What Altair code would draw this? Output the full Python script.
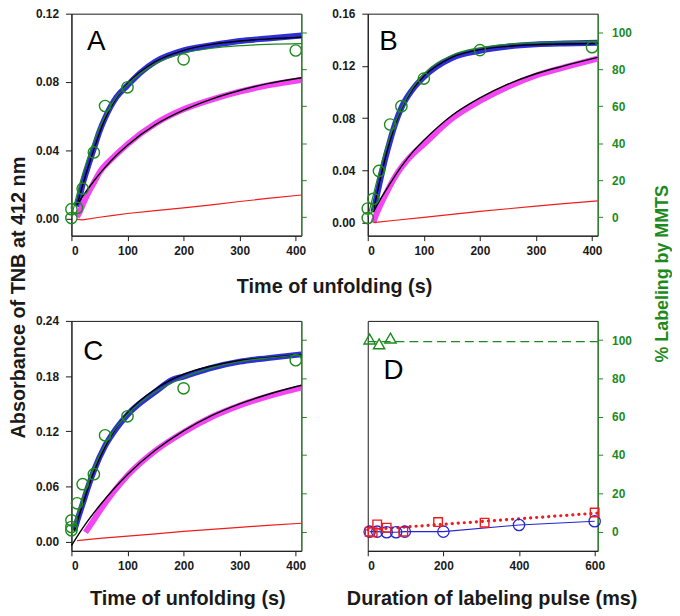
import altair as alt
import pandas as pd

FONT = "Liberation Sans"
GREEN = "#1c8a1c"
BLUE = "#2424d4"
MAGENTA = "#f23cf2"
RED = "#ee1c1c"
DARK = "#1a1a1a"

W = 232
H1, H2 = 224, 232

# ---------------- Panel A ----------------
A_blue_t = [10, 15, 20, 30, 40, 50, 60, 80, 100, 125, 150, 200, 250, 300, 350, 410]
A_blue_v = [0.007, 0.013, 0.020, 0.031, 0.041, 0.051, 0.059, 0.071, 0.078, 0.086, 0.092, 0.0985, 0.1015, 0.1040, 0.1055, 0.1072]
A_bfit_t = [10, 20, 40, 60, 80, 100, 150, 200, 250, 300, 350, 410]
A_bfit_v = [0.008, 0.0195, 0.0405, 0.0585, 0.0705, 0.0790, 0.0920, 0.0985, 0.1020, 0.1040, 0.1052, 0.1062]
A_mag_t = [10, 15, 20, 30, 40, 50, 75, 100, 150, 200, 250, 300, 350, 410]
A_mag_v = [0.001, 0.004, 0.008, 0.015, 0.021, 0.027, 0.036, 0.0436, 0.0557, 0.0640, 0.0697, 0.0743, 0.0780, 0.0812]
A_mfit_t = [10, 20, 40, 60, 80, 100, 150, 200, 250, 300, 350, 410]
A_mfit_v = [0.008, 0.013, 0.022, 0.030, 0.037, 0.043, 0.055, 0.0635, 0.0700, 0.0750, 0.0790, 0.0825]
A_red_t = [10, 20, 50, 75, 100, 150, 200, 250, 300, 350, 410]
A_red_v = [-0.0005, -0.0008, 0.0008, 0.0019, 0.0030, 0.0047, 0.0063, 0.0080, 0.0100, 0.0118, 0.0138]
A_grn_t = [0, 0, 10, 20, 40, 60, 100, 200, 400]
A_grn_p = [-0.5, 4.3, 5.0, 15.4, 35.0, 60.1, 70.2, 85.3, 90.1]
A_gfit_t = [0, 10, 20, 40, 60, 80, 100, 150, 200, 250, 300, 350, 410]
A_gfit_p = [0, 12.5, 23.4, 41.0, 54.8, 64.9, 71.6, 83.0, 88.6, 91.3, 92.7, 93.4, 93.8]

# ---------------- Panel B ----------------
B_blue_t = [10, 15, 20, 30, 40, 50, 60, 80, 100, 150, 200, 250, 300, 350, 410]
B_blue_v = [0.008, 0.018, 0.028, 0.047, 0.063, 0.077, 0.088, 0.102, 0.1115, 0.126, 0.1316, 0.1348, 0.1365, 0.1372, 0.1377]
B_bfit_t = [10, 20, 40, 60, 80, 100, 150, 200, 250, 300, 350, 410]
B_bfit_v = [0.009, 0.029, 0.063, 0.087, 0.102, 0.112, 0.1265, 0.1325, 0.1350, 0.1362, 0.1368, 0.1372]
B_mag_t = [10, 15, 20, 30, 50, 75, 100, 150, 200, 250, 300, 350, 410]
B_mag_v = [0.000, 0.006, 0.011, 0.020, 0.036, 0.050, 0.060, 0.0796, 0.0931, 0.1040, 0.1127, 0.1188, 0.1257]
B_mfit_t = [10, 20, 40, 60, 80, 100, 150, 200, 250, 300, 350, 410]
B_mfit_v = [0.008, 0.016, 0.030, 0.043, 0.054, 0.063, 0.082, 0.0955, 0.106, 0.114, 0.120, 0.1265]
B_red_t = [10, 50, 100, 150, 200, 250, 300, 350, 410]
B_red_v = [0.0, 0.0018, 0.0040, 0.0063, 0.0086, 0.0106, 0.0126, 0.0146, 0.0167]
B_grn_t = [0, 0, 10, 20, 40, 60, 100, 200, 400]
B_grn_p = [-0.5, 4.7, 9.9, 25.0, 50.1, 60.0, 74.9, 90.3, 91.9]
B_gfit_t = [0, 10, 20, 40, 60, 80, 100, 150, 200, 250, 300, 350, 410]
B_gfit_p = [0, 12, 24, 44, 59, 70, 77.5, 87.5, 91.6, 93.5, 94.4, 94.8, 95.0]

# ---------------- Panel C ----------------
C_blue_t = [5, 10, 20, 30, 40, 60, 80, 100, 150, 180, 200, 250, 300, 350, 410]
C_blue_v = [0.012, 0.022, 0.041, 0.060, 0.077, 0.104, 0.123, 0.138, 0.163, 0.176, 0.1795, 0.189, 0.1957, 0.1995, 0.2036]
C_bfit_t = [5, 10, 20, 40, 60, 80, 100, 150, 200, 250, 300, 350, 410]
C_bfit_v = [0.011, 0.021, 0.040, 0.076, 0.103, 0.124, 0.140, 0.166, 0.182, 0.191, 0.197, 0.200, 0.2035]
C_mag_t = [25, 35, 50, 75, 100, 150, 200, 250, 300, 350, 410]
C_mag_v = [0.010, 0.019, 0.033, 0.054, 0.072, 0.099, 0.119, 0.1355, 0.148, 0.158, 0.1675]
C_mfit_t = [0, 25, 50, 75, 100, 150, 200, 250, 300, 350, 410]
C_mfit_v = [-0.0043, 0.019, 0.039, 0.057, 0.073, 0.0996, 0.1205, 0.137, 0.1498, 0.160, 0.170]
C_red_t = [10, 50, 100, 150, 200, 250, 300, 350, 410]
C_red_v = [0.0011, 0.0035, 0.0060, 0.0085, 0.0112, 0.0133, 0.0155, 0.0177, 0.0200]
C_grn_t = [0, 0, 0, 10, 20, 40, 60, 100, 200, 400]
C_grn_p = [0.7, 2.4, 5.9, 14.8, 24.8, 30.0, 50.3, 60.2, 74.8, 89.5]
C_gfit_t = [0, 10, 20, 40, 60, 80, 100, 150, 200, 250, 300, 350, 410]
C_gfit_p = [0, 8.5, 17.5, 33.5, 45.5, 54.5, 61.2, 73.0, 80.5, 85.5, 88.7, 90.6, 92.2]

# ---------------- Panel D ----------------
D_tri_x = [5, 30, 60]
D_tri_p = [100.5, 98.0, 101.0]
D_dash_x = [0, 608]
D_dash_p = [99.2, 99.2]
D_sq_x = [5, 13, 25, 50, 94, 186, 309, 600]
D_sq_p = [0.0, -0.3, 3.8, 2.1, 0.0, 5.0, 4.7, 10.0]
D_dot_x = [0, 608]
D_dot_p = [1.0, 9.7]
D_circ_x = [5, 25, 50, 75, 98, 200, 400, 600]
D_circ_p = [0.0, 0.0, -0.3, -0.3, 0.0, 0.0, 3.5, 5.4]

T_TICKS = [0, 100, 200, 300, 400]
P_TICKS = [0, 20, 40, 60, 80, 100]


def dfv(t, v):
    return pd.DataFrame({"t": t, "v": v})


def dfp(t, p):
    return pd.DataFrame({"t": t, "p": p})


def letter_layer(letter, lx, ly):
    return alt.Chart(pd.DataFrame({"label": [letter]})).mark_text(
        font=FONT, fontSize=28, align="center", baseline="middle", color="black"
    ).encode(x=alt.value(lx), y=alt.value(ly), text="label:N")


def abs_panel(letter, lx, ly, ymax, yvals, data, right_labels, x_axis, height, left_title=None, right_title=None):
    xenc = alt.X("t:Q", scale=alt.Scale(domain=[0, 410], nice=False, zero=False), axis=x_axis)
    la = dict(values=yvals, format=".2f", orient="left", tickSize=6, labelPadding=7)
    if left_title:
        la.update(left_title)
    else:
        la["title"] = None
    yv = alt.Y("v:Q", scale=alt.Scale(domain=[-0.01, ymax], nice=False, zero=False), axis=alt.Axis(**la))
    (bt, bv, bft, bfv, mt, mv, mft, mfv, rt, rv, gt, gp, gft, gfp) = data
    layers = [
        alt.Chart(dfv(bt, bv)).mark_line(color=BLUE, strokeWidth=6, interpolate="monotone", opacity=0.95).encode(x=xenc, y=yv),
        alt.Chart(dfv(mt, mv)).mark_line(color=MAGENTA, strokeWidth=6, interpolate="monotone", opacity=0.95).encode(x=xenc, y=yv),
        alt.Chart(dfv(bft, bfv)).mark_line(color="black", strokeWidth=1.4, interpolate="monotone").encode(x=xenc, y=yv),
        alt.Chart(dfv(mft, mfv)).mark_line(color="black", strokeWidth=1.4, interpolate="monotone").encode(x=xenc, y=yv),
        alt.Chart(dfv(rt, rv)).mark_line(color=RED, strokeWidth=1.2).encode(x=xenc, y=yv),
        letter_layer(letter, lx, ly),
    ]
    abs_group = alt.layer(*layers)
    ra = dict(orient="right", values=P_TICKS, labels=right_labels, domainColor=GREEN, tickColor=GREEN,
              labelColor=GREEN, tickSize=5, labelPadding=9)
    if right_title:
        ra.update(right_title)
    else:
        ra["title"] = None
    yp = alt.Y("p:Q", scale=alt.Scale(domain=[-10, 110], nice=False, zero=False), axis=alt.Axis(**ra))
    pct_group = alt.layer(
        alt.Chart(dfp(gft, gfp)).mark_line(color=GREEN, strokeWidth=1.2, interpolate="monotone").encode(x=xenc, y=yp),
        alt.Chart(dfp(gt, gp)).mark_point(shape="circle", filled=False, color=GREEN, size=130, strokeWidth=1.4, opacity=1).encode(x=xenc, y=yp),
    )
    return alt.layer(abs_group, pct_group).resolve_scale(y="independent").properties(width=W, height=height)


xa_A = alt.Axis(values=T_TICKS, tickSize=5, labelPadding=5, title="Time of unfolding (s)",
                titleX=265, titleY=51, titleAlign="center", titleBaseline="middle")
xa_B = alt.Axis(values=T_TICKS, tickSize=5, labelPadding=5, title=None)
xa_C = alt.Axis(values=T_TICKS, tickSize=5, labelPadding=5, title="Time of unfolding (s)",
                titleX=117, titleY=48, titleAlign="center", titleBaseline="middle")

left_title = dict(title="Absorbance of TNB at 412 nm", titleX=-53, titleY=286, titleAngle=270,
                  titleAlign="center", titleBaseline="middle")
right_title = dict(title="% Labeling by MMTS", titleX=65, titleY=262, titleAngle=270, titleColor=GREEN,
                   titleFontSize=18, titleAlign="center", titleBaseline="middle")

panelA = abs_panel("A", 25, 29, 0.12, [0, 0.04, 0.08, 0.12],
                   (A_blue_t, A_blue_v, A_bfit_t, A_bfit_v, A_mag_t, A_mag_v, A_mfit_t, A_mfit_v,
                    A_red_t, A_red_v, A_grn_t, A_grn_p, A_gfit_t, A_gfit_p),
                   False, xa_A, H1, left_title=left_title)
panelB = abs_panel("B", 21, 29, 0.16, [0, 0.04, 0.08, 0.12, 0.16],
                   (B_blue_t, B_blue_v, B_bfit_t, B_bfit_v, B_mag_t, B_mag_v, B_mfit_t, B_mfit_v,
                    B_red_t, B_red_v, B_grn_t, B_grn_p, B_gfit_t, B_gfit_p),
                   True, xa_B, H1, right_title=right_title)
panelC = abs_panel("C", 22, 31, 0.24, [0, 0.06, 0.12, 0.18, 0.24],
                   (C_blue_t, C_blue_v, C_bfit_t, C_bfit_v, C_mag_t, C_mag_v, C_mfit_t, C_mfit_v,
                    C_red_t, C_red_v, C_grn_t, C_grn_p, C_gfit_t, C_gfit_p),
                   False, xa_C, H2)

# Panel D
xD = alt.X("t:Q", scale=alt.Scale(domain=[0, 608], nice=False, zero=False),
           axis=alt.Axis(values=[0, 200, 400, 600], tickSize=5, labelPadding=5,
                         title="Duration of labeling pulse (ms)", titleX=125, titleY=48,
                         titleAlign="center", titleBaseline="middle"))
yD = alt.Y("p:Q", scale=alt.Scale(domain=[-10, 110], nice=False, zero=False),
           axis=alt.Axis(orient="right", values=P_TICKS, domainColor=GREEN, tickColor=GREEN,
                         labelColor=GREEN, tickSize=5, labelPadding=9, title=None))
panelD = alt.layer(
    alt.Chart(dfp(D_dash_x, D_dash_p)).mark_line(color=GREEN, strokeWidth=1.2, strokeDash=[9, 5]).encode(x=xD, y=yD),
    alt.Chart(dfp(D_tri_x, D_tri_p)).mark_point(shape="triangle-up", filled=False, color=GREEN, size=130, strokeWidth=1.4, opacity=1).encode(x=xD, y=yD),
    alt.Chart(dfp(D_dot_x, D_dot_p)).mark_line(color=RED, strokeWidth=3.2, strokeDash=[0.1, 6], strokeCap="round").encode(x=xD, y=yD),
    alt.Chart(dfp(D_circ_x, D_circ_p)).mark_line(color=BLUE, strokeWidth=1.1).encode(x=xD, y=yD),
    alt.Chart(dfp(D_circ_x, D_circ_p)).mark_point(shape="circle", filled=False, color=BLUE, size=130, strokeWidth=1.3, opacity=1).encode(x=xD, y=yD),
    alt.Chart(dfp(D_sq_x, D_sq_p)).mark_point(shape="square", filled=False, color=RED, size=75, strokeWidth=1.4, opacity=1).encode(x=xD, y=yD),
    letter_layer("D", 26, 51),
).properties(width=W, height=H2)

chart = alt.concat(panelA, panelB, panelC, panelD, columns=2,
                   spacing={"row": 86, "column": 67}, bounds="flush").properties(
    padding={"left": 0, "top": -4, "right": 0, "bottom": 0}
).configure_view(stroke=DARK, strokeWidth=1).configure_axis(
    labelFont=FONT, labelFontSize=12, labelFontWeight="bold", labelColor=DARK,
    titleFont=FONT, titleFontSize=20, titleFontWeight="bold", titleColor=DARK,
    domainColor=DARK, tickColor=DARK, grid=False
)

chart.save("out.html", embed_options={"renderer": "svg", "actions": False})
